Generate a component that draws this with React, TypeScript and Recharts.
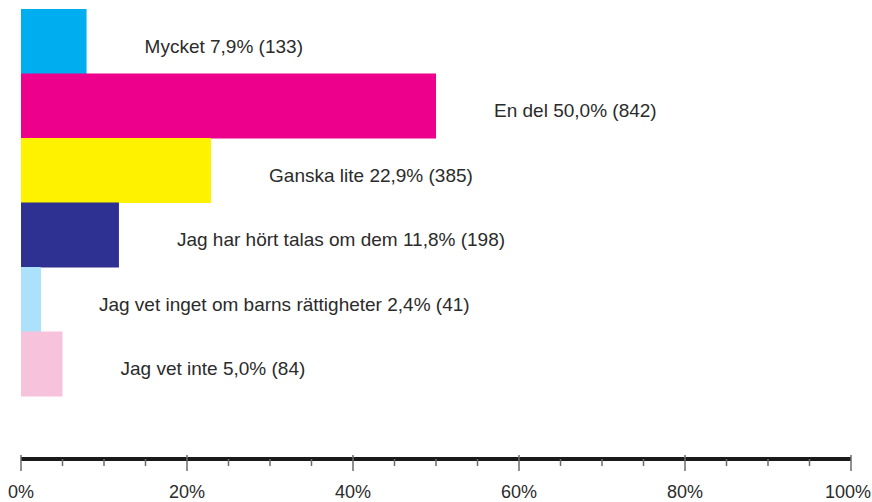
import { BarChart, Bar, XAxis, YAxis, Cell, LabelList } from "recharts";

const categories = [
  "Mycket",
  "En del",
  "Ganska lite",
  "Jag har hört talas om dem",
  "Jag vet inget om barns rättigheter",
  "Jag vet inte",
];
const percents = [7.9, 50.0, 22.9, 11.8, 2.4, 5.0];
const counts = [133, 842, 385, 198, 41, 84];
const colors = ["#00aeef", "#ec008c", "#fff200", "#2e3192", "#abe1fa", "#f6c2dc"];
const xTicks = [0, 5, 10, 15, 20, 25, 30, 35, 40, 45, 50, 55, 60, 65, 70, 75, 80, 85, 90, 95, 100];

const FONT = "'Liberation Sans', Arial, Helvetica, sans-serif";

const data = categories.map((name, i) => ({
  name,
  value: percents[i],
  label: `${name} ${percents[i].toFixed(1).replace(".", ",")}% (${counts[i]})`,
}));

function AxisTick(props: any) {
  const { x, y, payload } = props;
  const major = payload.value % 20 === 0;
  const last = payload.value === 100;
  return (
    <g>
      <line
        x1={x}
        x2={x}
        y1={major ? y - 4 : y}
        y2={major ? y + 12 : y + 7}
        stroke="#6b6b6b"
        strokeWidth={1.5}
      />
      {major && (
        <text
          x={last ? x + 20 : x}
          y={y + 39}
          textAnchor={last ? "end" : "middle"}
          fill="#2b2b2b"
          fontSize={18}
          fontFamily={FONT}
        >
          {payload.value}%
        </text>
      )}
    </g>
  );
}

function BarLabel(props: any) {
  const { x, y, width, height, value } = props;
  return (
    <text
      x={x + width + 58}
      y={y + height / 2 + 11}
      fill="#2b2b2b"
      fontSize={19}
      fontFamily={FONT}
    >
      {value}
    </text>
  );
}

export default function App() {
  return (
    <div style={{ position: "absolute", left: 0, top: 0, background: "#fff" }}>
      <BarChart
        width={872}
        height={502}
        data={data}
        layout="vertical"
        barCategoryGap={0}
        margin={{ top: 9, right: 21, left: 21, bottom: 0 }}
      >
        <XAxis
          type="number"
          domain={[0, 100]}
          ticks={xTicks}
          interval={0}
          height={43}
          tickSize={0}
          tickMargin={0}
          tickLine={false}
          axisLine={{ stroke: "#1a1a1a", strokeWidth: 4 }}
          tick={<AxisTick />}
        />
        <YAxis type="category" dataKey="name" hide padding={{ top: 0, bottom: 63 }} />
        <Bar dataKey="value" isAnimationActive={false}>
          {data.map((d, i) => (
            <Cell key={d.name} fill={colors[i]} />
          ))}
          <LabelList dataKey="label" content={<BarLabel />} />
        </Bar>
      </BarChart>
    </div>
  );
}
